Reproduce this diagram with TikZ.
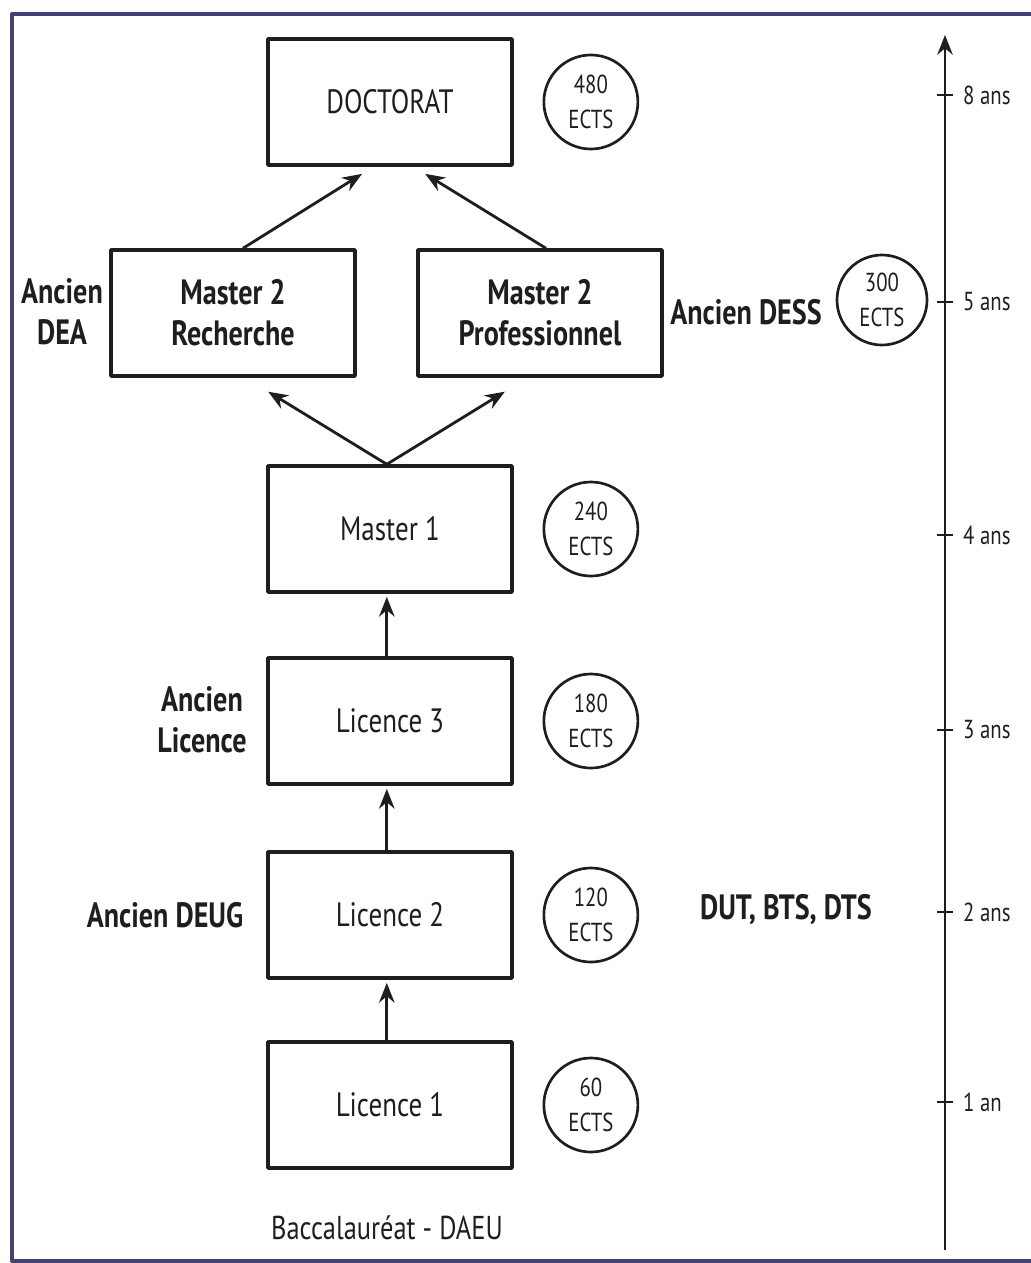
\documentclass[tikz,border=0pt]{standalone}
\usepackage{fontspec}
\setmainfont{PT Sans}[FakeStretch=0.8]
\usetikzlibrary{arrows.meta,positioning}
\definecolor{framecol}{RGB}{66,66,116}
\definecolor{inkcol}{RGB}{30,30,30}
\tikzset{
  box/.style={draw, line width=2.4pt, minimum width=6.1cm, minimum height=3.15cm, align=center, font=\fontsize{24}{28}\selectfont},
  boxbf/.style={box, font=\fontsize{25}{29}\selectfont\bfseries},
  ects/.style={draw, circle, line width=1.9pt, minimum size=2.35cm, inner sep=0pt, align=center, font=\fontsize{18.5}{25}\selectfont},
  ancien/.style={align=center, font=\fontsize{25}{29}\selectfont\bfseries},
  arr/.style={->, line width=2pt},
  yearlabel/.style={right, xshift=3pt, font=\fontsize{18.5}{22}\selectfont}
}
\begin{document}
\begin{tikzpicture}[x=0.025cm, y=-0.025cm, >={Stealth[length=14pt,width=11pt]}, line join=round, inkcol]
	\useasboundingbox (0,0) rectangle (1031,1263);
	% cadre
	\draw[framecol, line width=2.8pt] (1040,14) -- (12,14) -- (12,1261) -- (1040,1261);
	% diplomes
	\node[box] (doct) at (390,102) {DOCTORAT};
	\node[boxbf] (m2r) at (233,313) {Master 2\\Recherche};
	\node[boxbf] (m2p) at (540,313) {Master 2\\Professionnel};
	\node[box] (m1) at (390,529) {Master 1};
	\node[box] (l3) at (390,721) {Licence 3};
	\node[box] (l2) at (390,915) {Licence 2};
	\node[box] (l1) at (390,1105) {Licence 1};
	% credits
	\node[ects, right=0.72cm of doct] (e480) {480\\ECTS};
	\node[ects, right=0.72cm of m1] (e240) {240\\ECTS};
	\node[ects, right=0.72cm of l3] (e180) {180\\ECTS};
	\node[ects, right=0.72cm of l2] (e120) {120\\ECTS};
	\node[ects, right=0.72cm of l1] (e60) {60\\ECTS};
	\node[ects, minimum size=2.25cm] (e300) at (882,300) {300\\ECTS};
	% anciens diplomes
	\node[ancien] (dea) at (62,312) {Ancien\\DEA};
	\node[ancien] (dess) at (746,312) {Ancien DESS};
	\node[ancien] (lic) at (202,720) {Ancien\\Licence};
	\node[ancien] (deug) at (165,915) {Ancien DEUG};
	\node[ancien] (dut) at (786,910) {DUT, BTS, DTS};
	\node[font=\fontsize{23.5}{27}\selectfont] (bac) at (387,1228) {Baccalauréat - DAEU};
	% fleches
	\draw[arr] ([xshift=0.25cm]m2r.north) -- ([xshift=-0.7cm,yshift=-0.18cm]doct.south);
	\draw[arr] ([xshift=0.15cm]m2p.north) -- ([xshift=0.88cm,yshift=-0.18cm]doct.south);
	\draw[arr] ([xshift=-0.08cm]m1.north) -- ([xshift=0.88cm,yshift=-0.35cm]m2r.south);
	\draw[arr] ([xshift=-0.08cm]m1.north) -- ([xshift=-0.88cm,yshift=-0.35cm]m2p.south);
	\draw[arr] ([xshift=-0.08cm]l3.north) -- ([xshift=-0.08cm,yshift=-0.08cm]m1.south);
	\draw[arr] ([xshift=-0.08cm]l2.north) -- ([xshift=-0.08cm,yshift=-0.08cm]l3.south);
	\draw[arr] ([xshift=-0.08cm]l1.north) -- ([xshift=-0.08cm,yshift=-0.08cm]l2.south);
	% axe des annees
	\coordinate (abas) at (945,1250);
	\coordinate (ahaut) at (945,35);
	\draw[->, line width=1.8pt] (abas) -- (ahaut);
	\foreach \yy/\lab in {95/8 ans, 302/5 ans, 535/4 ans, 730/3 ans, 912/2 ans, 1102/1 an}
		\draw[line width=1.8pt] (937,\yy) -- (953,\yy) node[yearlabel] {\lab};
\end{tikzpicture}
\end{document}
